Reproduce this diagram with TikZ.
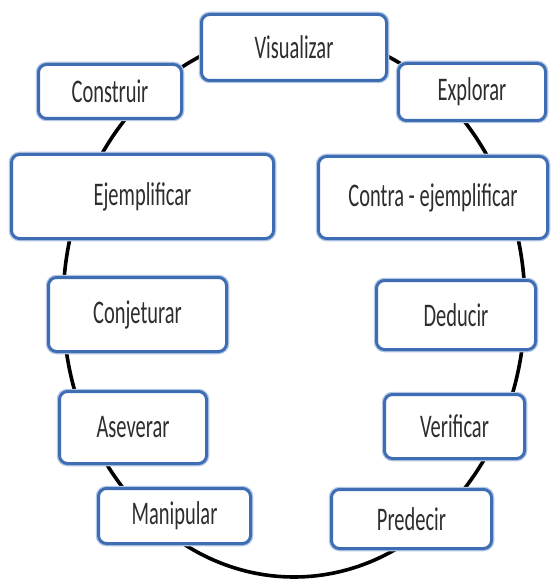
\documentclass[tikz,border=0pt]{standalone}
\usepackage{fontspec}
\setmainfont{Carlito}[FakeStretch=0.62]
\definecolor{boxblue}{HTML}{3F6DB3}
\definecolor{halo}{HTML}{B4C8E6}
\definecolor{txt}{HTML}{2E2E2E}
\tikzset{
  stagebox/.style={draw=boxblue, line width=3pt, fill=white, rounded corners=8pt,
    preaction={draw=halo, line width=5.5pt, rounded corners=8pt},
    text=txt, font=\fontsize{33}{36}\selectfont, inner sep=0pt, align=center},
  ring/.style={draw=black, line width=3.6pt}
}
\begin{document}
\begin{tikzpicture}[x=1pt,y=-1pt]
\useasboundingbox (0,0) rectangle (552,580);
\fill[white] (0,0) rectangle (552,580);
\draw[ring] (294,305) ellipse [x radius=231, y radius=272];
\node[stagebox, minimum width=185pt, minimum height=66pt] (vis) at (294,47.5) {Visualizar};
\node[stagebox, minimum width=143pt, minimum height=54pt] (con) at (110,91.5) {Construir};
\node[stagebox, minimum width=147pt, minimum height=57pt] (exp) at (472,92) {Explorar};
\node[stagebox, minimum width=262pt, minimum height=84pt] (eje) at (142.5,196.5) {Ejemplificar};
\node[stagebox, minimum width=229pt, minimum height=82pt] (cej) at (433,197.5) {Contra - ejemplificar};
\node[stagebox, minimum width=178pt, minimum height=74pt] (cnj) at (137.5,314.5) {Conjeturar};
\node[stagebox, minimum width=159pt, minimum height=69pt] (ded) at (456,315) {Deducir};
\node[stagebox, minimum width=147pt, minimum height=72pt] (ase) at (133,427.5) {Aseverar};
\node[stagebox, minimum width=140pt, minimum height=64pt] (ver) at (454.5,426.5) {Verificar};
\node[stagebox, minimum width=152pt, minimum height=55pt] (man) at (174.5,516) {Manipular};
\node[stagebox, minimum width=160pt, minimum height=59pt] (pre) at (411.5,519) {Predecir};
\end{tikzpicture}
\end{document}
